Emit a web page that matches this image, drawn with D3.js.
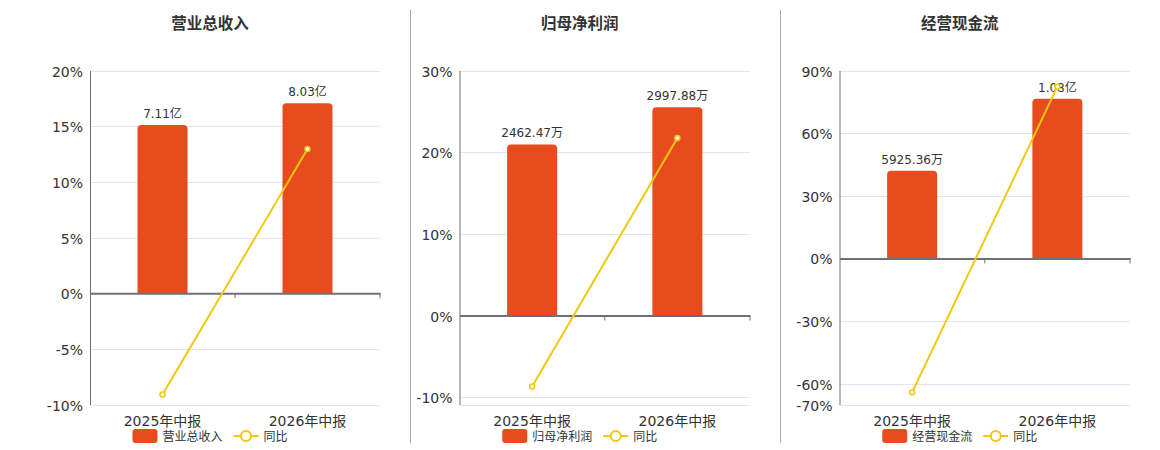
<!DOCTYPE html>
<html><head><meta charset="utf-8">
<script src="https://cdn.jsdelivr.net/npm/d3@7"></script>
<style>
html,body{margin:0;padding:0;background:#fff;}
svg{display:block;font-family:"DejaVu Sans","Noto Sans CJK SC",sans-serif;}
</style></head>
<body>
<svg id="c" width="1160" height="450"></svg>
<script>
// ---- data ----
const categories = ["2025年中报", "2026年中报"];
const titles = ["营业总收入", "归母净利润", "经营现金流"];
// bar values (unit: 万元)
const revenueValues = [71100, 80300];
const profitValues = [2462.47, 2997.88];
const cashValues = [5925.36, 10800];
// bar labels
const revenueLabels = ["7.11亿", "8.03亿"];
const profitLabels = ["2462.47万", "2997.88万"];
const cashLabels = ["5925.36万", "1.08亿"];
// year-over-year (%)
const revenueYoY = [-9.1, 12.94];
const profitYoY = [-8.7, 21.74];
const cashYoY = [-64.2, 82.27];
// percent axis ticks and domains
const revenueTicks = [20, 15, 10, 5, 0, -5, -10];
const profitTicks = [30, 20, 10, 0, -10];
const cashTicks = [90, 60, 30, 0, -30, -60, -70];
const pctDomains = [[-10, 20], [-10.9, 30], [-70, 90]];
// hidden bar axis maximum (万元), value at top of the plot
const barAxisMax = [94200, 3527, 12710];
const legendYoY = "同比";

const BAR = "#e84c1d", LINE = "#f2c80f", AXIS = "#6e7079", GRID = "#e0e6f1", TXT = "#333";

const panels = [
  {left: 90, right: 380, title: titles[0], bars: revenueValues, labels: revenueLabels, yoy: revenueYoY, ticks: revenueTicks},
  {left: 459.5, right: 750, title: titles[1], bars: profitValues, labels: profitLabels, yoy: profitYoY, ticks: profitTicks},
  {left: 839.5, right: 1130, title: titles[2], bars: cashValues, labels: cashLabels, yoy: cashYoY, ticks: cashTicks}
];
const TOP = 70.5, BOTTOM = 404.5;

const svg = d3.select("#c");

// separators
[410.5, 780.5].forEach(x => svg.append("line").attr("x1", x).attr("x2", x).attr("y1", 10).attr("y2", 443)
  .attr("stroke", "#aaa").attr("stroke-width", 1));

panels.forEach((p, i) => {
  const g = svg.append("g");
  const y = d3.scaleLinear().domain(pctDomains[i]).range([BOTTOM, TOP]);
  const x = d3.scaleBand().domain(categories).range([p.left, p.right]);
  const zeroY = y(0);
  const yb = d3.scaleLinear().domain([0, barAxisMax[i]]).range([zeroY, TOP]);
  const center = (p.left + p.right) / 2 - 25;

  // title
  g.append("text").attr("x", center).attr("y", 29).attr("text-anchor", "middle")
    .attr("font-size", 15.5).attr("font-weight", "bold").attr("fill", TXT).text(p.title);

  // grid lines
  const gridVals = p.ticks.concat(i === 1 ? [pctDomains[i][0]] : []);
  g.selectAll(".grid").data(gridVals.filter(t => t !== 0)).enter().append("line")
    .attr("x1", p.left).attr("x2", p.right)
    .attr("y1", d => Math.round(y(d)) + 0.5).attr("y2", d => Math.round(y(d)) + 0.5)
    .attr("stroke", GRID).attr("stroke-width", 1);

  // y axis via d3.axisLeft
  const ya = g.append("g").attr("transform", `translate(${p.left},0)`)
    .call(d3.axisLeft(y).tickValues(p.ticks).tickSize(0).tickPadding(7).tickFormat(d => d + "%"));
  ya.select(".domain").attr("stroke", AXIS).attr("stroke-width", 1);
  ya.selectAll("text").attr("font-size", 14).attr("fill", TXT).attr("font-family", "DejaVu Sans, Noto Sans CJK SC").attr("dy", "0.4em");

  // bars
  const bw = 50, r = 4;
  g.selectAll(".bar").data(p.bars).enter().append("path")
    .attr("fill", BAR)
    .attr("d", (d, j) => {
      const cx = x(categories[j]) + x.bandwidth() / 2;
      const x0 = cx - bw / 2, x1 = cx + bw / 2, yt = yb(d), y0 = zeroY;
      return `M${x0},${y0}V${yt + r}Q${x0},${yt} ${x0 + r},${yt}H${x1 - r}Q${x1},${yt} ${x1},${yt + r}V${y0}Z`;
    });

  // bar labels
  g.selectAll(".bl").data(p.bars).enter().append("text")
    .attr("x", (d, j) => x(categories[j]) + x.bandwidth() / 2)
    .attr("y", d => yb(d) - 7)
    .attr("text-anchor", "middle").attr("font-size", 12).attr("fill", TXT)
    .text((d, j) => p.labels[j]);

  // x axis at zero
  const xa = g.append("g").attr("transform", `translate(0,${zeroY})`)
    .call(d3.axisBottom(x).tickSize(0).tickFormat(""));
  xa.select(".domain").attr("stroke", AXIS).attr("stroke-width", 2);
  // boundary ticks
  const bounds = [x.range()[0] + x.step(), x.range()[1]];
  g.selectAll(".bt").data(bounds).enter().append("line")
    .attr("x1", d => d).attr("x2", d => d).attr("y1", zeroY).attr("y2", zeroY + 5)
    .attr("stroke", AXIS).attr("stroke-width", 1);

  // x category labels
  g.selectAll(".xl").data(categories).enter().append("text")
    .attr("x", d => x(d) + x.bandwidth() / 2).attr("y", 426)
    .attr("text-anchor", "middle").attr("font-size", 14).attr("fill", TXT).text(d => d);

  // yoy line
  const line = d3.line().x((d, j) => x(categories[j]) + x.bandwidth() / 2).y(d => y(d));
  g.append("path").datum(p.yoy).attr("d", line).attr("fill", "none").attr("stroke", LINE).attr("stroke-width", 2);
  g.selectAll(".pt").data(p.yoy).enter().append("circle")
    .attr("cx", (d, j) => x(categories[j]) + x.bandwidth() / 2).attr("cy", d => y(d)).attr("r", 2.5)
    .attr("fill", "#fff").attr("stroke", LINE).attr("stroke-width", 1.5);

  // legend
  const lx = center - 77.5, ly = 436;
  g.append("rect").attr("x", lx).attr("y", ly - 7).attr("width", 25).attr("height", 14).attr("rx", 3).attr("fill", BAR);
  g.append("text").attr("x", lx + 30).attr("y", ly + 4.5).attr("font-size", 12).attr("fill", TXT).text(p.title);
  const ix = lx + 101;
  g.append("line").attr("x1", ix).attr("x2", ix + 25).attr("y1", ly).attr("y2", ly).attr("stroke", LINE).attr("stroke-width", 2);
  g.append("circle").attr("cx", ix + 12.5).attr("cy", ly).attr("r", 5).attr("fill", "#fff").attr("stroke", LINE).attr("stroke-width", 2);
  g.append("text").attr("x", ix + 30).attr("y", ly + 4.5).attr("font-size", 12).attr("fill", TXT).text(legendYoY);
});
</script>
</body></html>
